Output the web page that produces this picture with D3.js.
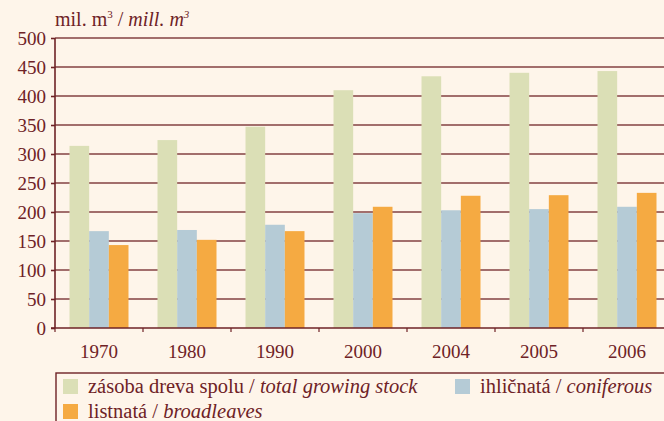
<!DOCTYPE html>
<html>
<head>
<meta charset="utf-8">
<script src="https://cdn.jsdelivr.net/npm/d3@7"></script>
<style>
  html, body { margin: 0; padding: 0; background: #fef5ea; }
  svg { display: block; }
  text { font-family: "Liberation Serif", "Times New Roman", serif; }
</style>
</head>
<body>
<svg id="chart" width="664" height="421"></svg>
<script>
// data
const years = ["1970", "1980", "1990", "2000", "2004", "2005", "2006"];
const seriesKeys = ["total", "coniferous", "broadleaves"];
const totalStock = [314, 324, 347, 410, 434, 440, 443];
const coniferous = [167, 169, 178, 198, 203, 205, 209];
const broadleaves = [143, 152, 167, 209, 228, 229, 233];
const yTicks = [0, 50, 100, 150, 200, 250, 300, 350, 400, 450, 500];
const legendItems = [
  { key: "total", sk: "zásoba dreva spolu", en: "total growing stock" },
  { key: "coniferous", sk: "ihličnatá", en: "coniferous" },
  { key: "broadleaves", sk: "listnatá", en: "broadleaves" }
];

const ink = "#6e2226";
const serif = "Liberation Serif";
const colors = { total: "#dbdfb6", coniferous: "#b5cbd6", broadleaves: "#f5aa42" };

const svg = d3.select("#chart").attr("font-family", serif);
const W = 664;

const margin = { left: 55, top: 38, bottom: 328 };

const x = d3.scaleBand().domain(years).range([margin.left, margin.left + 7 * 88]);
const x1 = d3.scaleBand().domain(seriesKeys).range([14.5, 73.5]);
const y = d3.scaleLinear().domain([0, 500]).range([margin.bottom, margin.top]);

const data = years.map((yr, i) => ({
  year: yr,
  total: totalStock[i],
  coniferous: coniferous[i],
  broadleaves: broadleaves[i]
}));

// gridlines
svg.append("g")
  .selectAll("line")
  .data(yTicks.filter(d => d > 0))
  .join("line")
  .attr("x1", margin.left).attr("x2", W)
  .attr("y1", d => y(d)).attr("y2", d => y(d))
  .attr("stroke", ink).attr("stroke-width", 1.6).attr("opacity", 0.85);

// bars
const groups = svg.append("g")
  .selectAll("g")
  .data(data)
  .join("g")
  .attr("transform", d => `translate(${x(d.year)},0)`);

groups.selectAll("rect")
  .data(d => seriesKeys.map(k => ({ key: k, value: d[k] })))
  .join("rect")
  .attr("x", d => x1(d.key))
  .attr("width", x1.bandwidth())
  .attr("y", d => y(d.value))
  .attr("height", d => y(0) - y(d.value))
  .attr("fill", d => colors[d.key]);

// y axis
const yAxis = svg.append("g")
  .attr("transform", `translate(${margin.left},0)`)
  .call(d3.axisLeft(y).tickValues(yTicks).tickSize(4).tickPadding(5))
  .attr("font-family", serif).attr("font-size", 19);
yAxis.select(".domain").attr("stroke", ink).attr("stroke-width", 1.6).attr("d", `M0,${y(500)}V${y(0)}`);
yAxis.selectAll(".tick line").attr("stroke", ink).attr("stroke-width", 1.6);
yAxis.selectAll("text").attr("fill", ink);

// x axis
const xAxis = svg.append("g")
  .attr("transform", `translate(0,${margin.bottom})`);
xAxis.append("line")
  .attr("x1", margin.left - 4).attr("x2", W)
  .attr("stroke", ink).attr("stroke-width", 1.6);
xAxis.selectAll(".xt")
  .data(years)
  .join("line")
  .attr("class", "xt")
  .attr("x1", d => x(d)).attr("x2", d => x(d))
  .attr("y1", 0).attr("y2", 4)
  .attr("stroke", ink).attr("stroke-width", 1.2);
xAxis.selectAll("text")
  .data(years)
  .join("text")
  .attr("x", d => x(d) + x.bandwidth() / 2)
  .attr("y", 30)
  .attr("text-anchor", "middle")
  .attr("fill", ink)
  .attr("font-family", serif)
  .attr("font-size", 19)
  .text(d => d);

// unit label
const unit = svg.append("text")
  .attr("x", 55).attr("y", 26)
  .attr("fill", ink).attr("font-family", serif).attr("font-size", 20);
unit.append("tspan").text("mil. m");
unit.append("tspan").attr("font-size", 11).attr("dy", -8).text("3");
unit.append("tspan").attr("dy", 8).text(" / ");
unit.append("tspan").attr("font-style", "italic").text("mill. m");
unit.append("tspan").attr("font-style", "italic").attr("font-size", 11).attr("dy", -8).text("3");

// legend
const leg = svg.append("g");
leg.append("rect")
  .attr("x", 56).attr("y", 373)
  .attr("width", 640).attr("height", 80)
  .attr("fill", "none").attr("stroke", ink).attr("stroke-width", 1.4);

const legPos = {
  total: [63, 379],
  coniferous: [455, 379],
  broadleaves: [63, 404]
};
legendItems.forEach(it => {
  const [lx, ly] = legPos[it.key];
  leg.append("rect")
    .attr("x", lx).attr("y", ly).attr("width", 15).attr("height", 15)
    .attr("fill", colors[it.key]);
  const t = leg.append("text")
    .attr("x", lx + 25).attr("y", ly + 13.5)
    .attr("fill", ink).attr("font-family", serif).attr("font-size", 20.5);
  t.append("tspan").text(it.sk + " / ");
  t.append("tspan").attr("font-style", "italic").text(it.en);
});
</script>
</body>
</html>
